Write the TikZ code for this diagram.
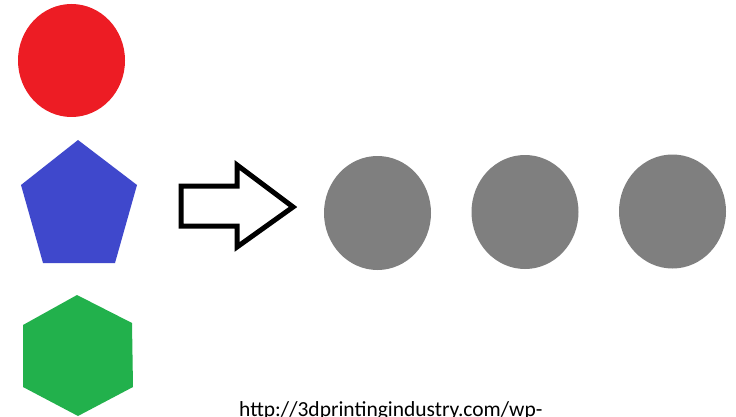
\documentclass[tikz,border=0pt]{standalone}
\usepackage{fontspec}
\setmainfont{Carlito}
\definecolor{pred}{HTML}{ED1C24}
\definecolor{pblue}{HTML}{3F48CC}
\definecolor{pgreen}{HTML}{22B14C}
\definecolor{pgray}{HTML}{7F7F7F}
\begin{document}
\begin{tikzpicture}[x=1pt,y=-1pt,
  dot/.style={fill=pgray,draw=none},
  shp/.style={draw=none}]
\useasboundingbox (0,0) rectangle (736,417);
\fill[white] (0,0) rectangle (736,417);
% red circle
\fill[pred] (71.5,60.5) ellipse [x radius=53.5, y radius=56.5];
% blue pentagon
\fill[pblue] (78,140) -- (137,185) -- (115,263) -- (43,263) -- (21,185) -- cycle;
% green hexagon
\fill[pgreen] (77,295) -- (132,323) -- (133,387) -- (78,416) -- (23,387) -- (23,325) -- cycle;
% arrow
\draw[line width=5, line join=miter, fill=white]
  (181,186) -- (237,186) -- (237,165) -- (293,207) -- (237,247) -- (237,226) -- (181,226) -- cycle;
% gray circles
\fill[pgray] (377.5,213) ellipse [x radius=53.5, y radius=57];
\fill[pgray] (525,212) ellipse [x radius=53.5, y radius=57];
\fill[pgray] (672.5,211.5) ellipse [x radius=53.5, y radius=57];
% url text
\node[anchor=base west, inner sep=0, font=\fontsize{21.5}{24}\selectfont] (url) at (239,416.5) {http://3dprintingindustry.com/wp-};
\end{tikzpicture}
\end{document}
